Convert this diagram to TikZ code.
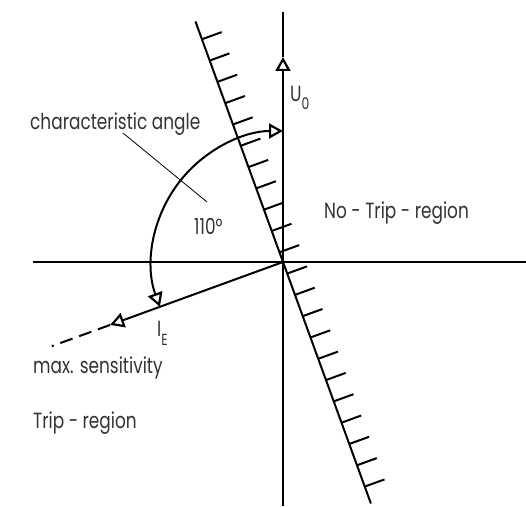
\documentclass[tikz,border=0pt]{standalone}
\usepackage{fontspec}
\setmainfont{Poppins}[FakeStretch=0.77]
\usetikzlibrary{arrows.meta,calc}
\begin{document}
\begin{tikzpicture}[x=1pt,y=1pt,
  axis/.style={line width=2pt},
  opentip/.style={-{Triangle[open,length=14pt,width=15pt,line width=2.2pt]}},
  bothtips/.style={{Triangle[open,length=14pt,width=15pt,line width=2.2pt]}-{Triangle[open,length=14pt,width=15pt,line width=2.2pt]}},
  lbl/.style={inner sep=0pt, anchor=base west, font=\fontsize{22}{26}\selectfont, text=black!80},
]
\useasboundingbox (0,0) rectangle (526,506);
% axes
\coordinate (O) at (283,244);
\coordinate (xl) at (33,244);
\coordinate (xr) at (526,244);
\coordinate (yb) at (283,0);
\coordinate (yt) at (283,494);
\coordinate (U) at (283,449);
\draw[axis] (xl) -- (xr);
\draw[axis,opentip] (yb) -- (U);
\draw[axis] (U) -- (yt);
% boundary line with hatches
\coordinate (ht) at ($(O)+(110:256pt)$);
\coordinate (hb) at ($(O)+(290:257pt)$);
\draw[axis] (ht) -- (hb);
\foreach \k in {0,...,21}{
  \pgfmathsetmacro\s{-239+\k*22.667}
  \coordinate (h\k) at ($(O)+(110:\s pt)$);
  \coordinate (g\k) at ($(h\k)+(20:21pt)$);
  \draw[axis] (h\k) -- (g\k);
}
% I_E vector
\coordinate (IE) at ($(O)+(200:184pt)$);
\coordinate (IEend) at ($(O)+(200:246pt)$);
\draw[axis,opentip] (O) -- (IE);
\draw[axis,dash pattern=on 13pt off 7pt] (IE) -- (IEend);
% angle arc
\coordinate (a1) at ($(O)+(200:131pt)$);
\draw[axis,bothtips] (a1) arc[start angle=200,end angle=90,radius=131pt] coordinate (a2);
% leader
\coordinate (la) at (123,373);
\coordinate (lb) at (207,304);
\draw[line width=0.8pt] (la) -- (lb);
% labels
\node[lbl] (tchar) at (30,376.7) {characteristic angle};
\node[lbl] (tang) at (194,271) {110°};
\node[lbl] (tu) at (290,404.3) {U\raisebox{-8pt}{\fontsize{16}{16}\selectfont 0}};
\node[lbl] (tnotrip) at (324,287.7) {No - Trip - region};
\node[lbl] (tmax) at (33,133) {max. sensitivity};
\node[lbl] (ttrip) at (33,77.7) {Trip - region};
\node[lbl] (tie) at (157,170) {I\raisebox{-9pt}{\fontsize{16}{16}\selectfont E}};
\end{tikzpicture}
\end{document}
